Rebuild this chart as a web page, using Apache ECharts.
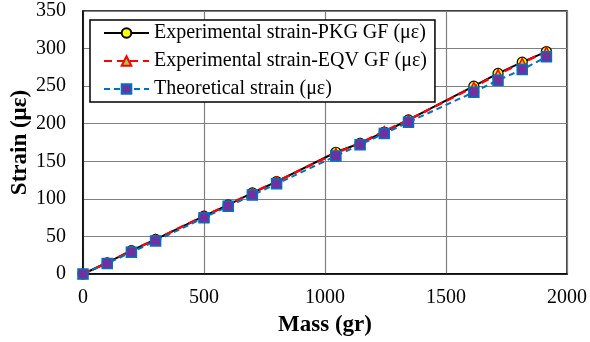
<!DOCTYPE html>
<html>
<head>
<meta charset="utf-8">
<script src="https://cdn.jsdelivr.net/npm/echarts@6/dist/echarts.min.js"></script>
<style>
  html, body { margin: 0; padding: 0; background: #fff; }
  #main { width: 590px; height: 342px; }
</style>
</head>
<body>
<div id="main"></div>
<script>
  // mass values (gr)
  var mass = [0, 100, 200, 300, 500, 600, 700, 800, 1045, 1145, 1245, 1345, 1615, 1715, 1815, 1915];
  // strain series (με)
  var pkgStrain = [0, 15, 31, 46, 77, 92, 108, 123, 162, 174, 189, 205, 250, 267, 282, 296];
  var eqvStrain = [0, 15, 31, 46, 77, 92, 108, 123, 161, 174, 190, 205, 249, 266, 281, 296];
  var theoStrain = [0, 14, 29, 44, 75, 90, 105, 120, 157, 172, 187, 202, 242, 258, 272, 289];
  var seriesNames = ['Experimental strain-PKG GF (με)', 'Experimental strain-EQV GF (με)', 'Theoretical strain (με)'];

  function pairs(ys) {
    return mass.map(function (m, i) { return [m, ys[i]]; });
  }

  var font = 'Liberation Serif, Times New Roman, serif';
  var myChart = echarts.init(document.getElementById('main'));
  var option = {
    animation: false,
    textStyle: { fontFamily: font },
    grid: {
      left: 83, right: 23, top: 11, bottom: 68,
      outerBoundsMode: 'none', containLabel: false,
      show: true, borderColor: '#000', borderWidth: 1.5, backgroundColor: 'transparent'
    },
    legend: {
      orient: 'vertical',
      left: 90, top: 20,
      padding: [3, 8, 3, 13],
      itemWidth: 45, itemHeight: 12, itemGap: 8,
      backgroundColor: '#fff',
      borderColor: '#000', borderWidth: 1.5, borderRadius: 0,
      textStyle: { fontFamily: font, fontSize: 20, color: '#000' },
      data: seriesNames
    },
    xAxis: {
      type: 'value', min: 0, max: 2000, interval: 500,
      name: 'Mass (gr)', nameLocation: 'middle', nameGap: 40, nameMoveOverlap: false,
      nameTextStyle: { fontFamily: font, fontSize: 23, fontWeight: 'bold', color: '#000' },
      axisLine: { show: true, lineStyle: { color: '#000', width: 1.5 } },
      axisTick: { show: false },
      axisLabel: { fontFamily: font, fontSize: 20, color: '#000', margin: 14,
        formatter: function (v) { return String(v); } },
      splitLine: { show: true, lineStyle: { color: '#808080', width: 1.2 } }
    },
    yAxis: {
      type: 'value', min: 0, max: 350, interval: 50,
      name: 'Strain (με)', nameLocation: 'middle', nameGap: 51, nameRotate: 90, nameMoveOverlap: false,
      nameTextStyle: { fontFamily: font, fontSize: 23, fontWeight: 'bold', color: '#000' },
      axisLine: { show: true, lineStyle: { color: '#000', width: 1.5 } },
      axisTick: { show: false },
      axisLabel: { fontFamily: font, fontSize: 20, color: '#000', margin: 17 },
      splitLine: { show: true, lineStyle: { color: '#808080', width: 1.2 } }
    },
    series: [
      {
        name: seriesNames[0], type: 'line', data: pairs(pkgStrain),
        symbol: 'circle', symbolSize: 10,
        lineStyle: { color: '#000', width: 2 },
        itemStyle: { color: '#FFFF00', borderColor: '#000', borderWidth: 1.2 },
        z: 2
      },
      {
        name: seriesNames[1], type: 'line', data: pairs(eqvStrain),
        symbol: 'triangle', symbolSize: 9,
        lineStyle: { color: '#FF0000', width: 2.5, type: [8, 5] },
        itemStyle: { color: '#92D050', borderColor: '#FF0000', borderWidth: 1.5 },
        z: 3
      },
      {
        name: seriesNames[2], type: 'line', data: pairs(theoStrain),
        symbol: 'rect', symbolSize: 10,
        lineStyle: { color: '#0070C0', width: 2, type: [6, 4] },
        itemStyle: { color: '#7030A0', borderColor: '#0070C0', borderWidth: 1.5 },
        z: 4
      }
    ]
  };
  myChart.setOption(option);
</script>
</body>
</html>
